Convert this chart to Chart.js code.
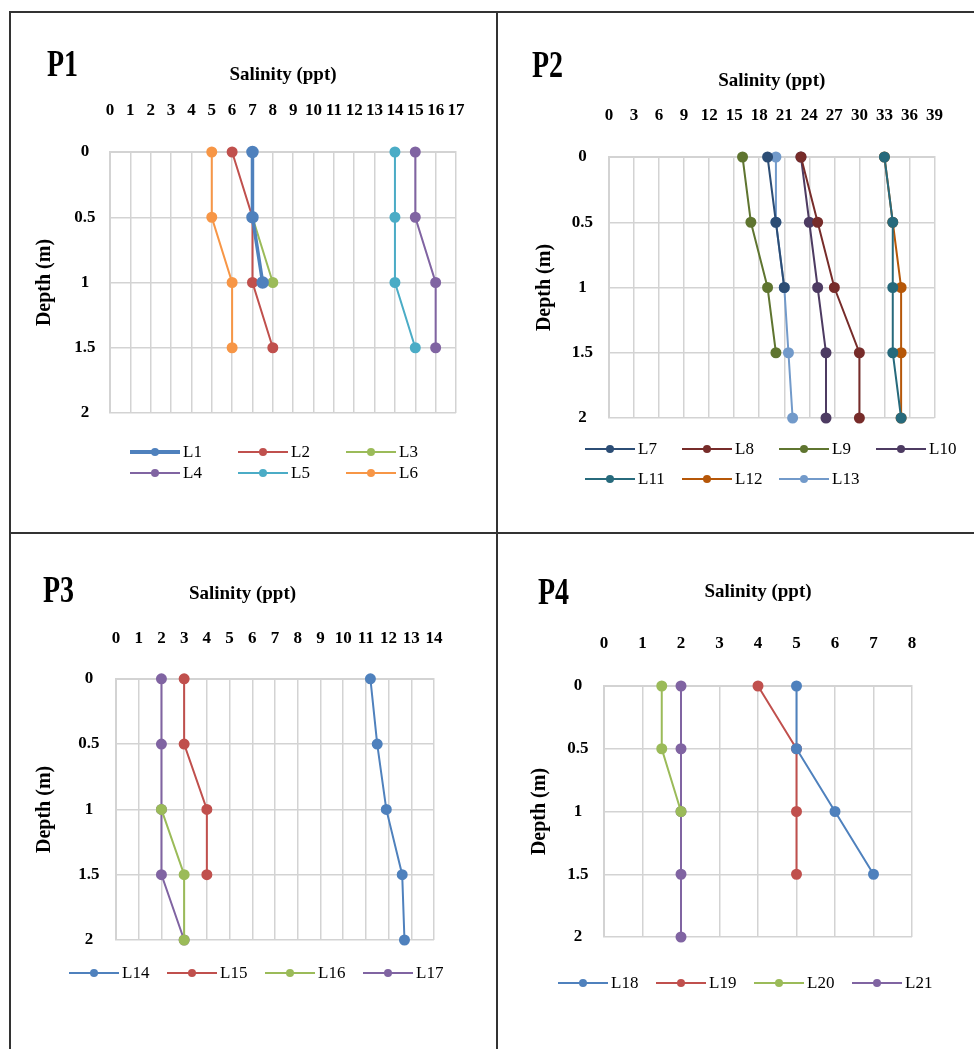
<!DOCTYPE html>
<html>
<head>
<meta charset="utf-8">
<title>Salinity profiles P1-P4</title>
<script src="https://cdn.jsdelivr.net/npm/chart.js@4.4.1/dist/chart.umd.min.js"></script>
<style>
  body { margin: 0; background: #fff; }
  #page { position: relative; width: 974px; height: 1049px; overflow: hidden; background: #fff; }
  canvas { position: absolute; }
  .rule { position: absolute; background: #333; }
  .tag { position: absolute; font: bold 28px "Liberation Serif", serif; line-height: 28px; transform: scaleY(1.35); transform-origin: 0 0; }
</style>
</head>
<body>
<div id="page">
  <canvas id="p1" width="497" height="533" style="left:0;top:0"></canvas>
  <canvas id="p2" width="477" height="533" style="left:497px;top:0"></canvas>
  <canvas id="p3" width="497" height="516" style="left:0;top:533px"></canvas>
  <canvas id="p4" width="477" height="516" style="left:497px;top:533px"></canvas>

  <div class="rule" style="left:9px;top:11px;width:965px;height:2px"></div>
  <div class="rule" style="left:9px;top:11px;width:2px;height:1038px"></div>
  <div class="rule" style="left:496px;top:11px;width:2px;height:1038px"></div>
  <div class="rule" style="left:9px;top:532px;width:965px;height:2px"></div>

  <div class="tag" style="left:47px;top:45px">P1</div>
  <div class="tag" style="left:532px;top:46px">P2</div>
  <div class="tag" style="left:43px;top:571px">P3</div>
  <div class="tag" style="left:538px;top:573px">P4</div>
</div>
<script>
// depth of each sample (m), shared by all stations
const depths = [0, 0.5, 1, 1.5, 2];
const depthTicks = [0, 0.5, 1, 1.5, 2];

// P1 salinity (ppt), null = no sample
const p1Names = ['L1', 'L2', 'L3', 'L4', 'L5', 'L6'];
const L1 = [7, 7, 7.5, null, null];
const L2 = [6, 7, 7, 8, null];
const L3 = [7, 7, 8, null, null];
const L4 = [15, 15, 16, 16, null];
const L5 = [14, 14, 14, 15, null];
const L6 = [5, 5, 6, 6, null];
const p1Ticks = [0, 1, 2, 3, 4, 5, 6, 7, 8, 9, 10, 11, 12, 13, 14, 15, 16, 17];

// P2
const p2Names = ['L7', 'L8', 'L9', 'L10', 'L11', 'L12', 'L13'];
const L7 = [19, 20, 21, null, null];
const L8 = [23, 25, 27, 30, 30];
const L9 = [16, 17, 19, 20, null];
const L10 = [23, 24, 25, 26, 26];
const L11 = [33, 34, 34, 34, 35];
const L12 = [33, 34, 35, 35, 35];
const L13 = [20, 20, 21, 21.5, 22];
const p2Ticks = [0, 3, 6, 9, 12, 15, 18, 21, 24, 27, 30, 33, 36, 39];

// P3
const p3Names = ['L14', 'L15', 'L16', 'L17'];
const L14 = [11.2, 11.5, 11.9, 12.6, 12.7];
const L15 = [3, 3, 4, 4, null];
const L16 = [null, null, 2, 3, 3];
const L17 = [2, 2, 2, 2, 3];
const p3Ticks = [0, 1, 2, 3, 4, 5, 6, 7, 8, 9, 10, 11, 12, 13, 14];

// P4
const p4Names = ['L18', 'L19', 'L20', 'L21'];
const L18 = [5, 5, 6, 7, null];
const L19 = [4, 5, 5, 5, null];
const L20 = [1.5, 1.5, 2, null, null];
const L21 = [2, 2, 2, 2, 2];
const p4Ticks = [0, 1, 2, 3, 4, 5, 6, 7, 8];

const GRID = '#d3d3d3';
const excel = ['#4F81BD', '#C0504D', '#9BBB59', '#8064A2', '#4BACC6', '#F79646'];
const excelDark = ['#2C4D75', '#772C2A', '#5F7530', '#4D3B62', '#276A7C', '#B65708', '#729ACA'];

Chart.defaults.font.family = '"Liberation Serif", "Times New Roman", serif';
Chart.defaults.color = '#000';

// legend drawn in fixed columns like the spreadsheet one
const depthLegend = {
  id: 'depthLegend',
  afterDraw(chart, args, opts) {
    const ctx = chart.ctx;
    ctx.save();
    ctx.font = '17px "Liberation Serif", serif';
    ctx.textBaseline = 'middle';
    chart.data.datasets.forEach((ds, i) => {
      const x = opts.x + (i % opts.cols) * opts.colStep;
      const y = opts.y + Math.floor(i / opts.cols) * opts.rowStep;
      ctx.strokeStyle = ds.borderColor;
      ctx.lineWidth = ds.borderWidth > 2 ? 4 : 2;
      ctx.beginPath();
      ctx.moveTo(x, y);
      ctx.lineTo(x + 50, y);
      ctx.stroke();
      ctx.fillStyle = ds.borderColor;
      ctx.beginPath();
      ctx.arc(x + 25, y, 4, 0, Math.PI * 2);
      ctx.fill();
      ctx.fillStyle = '#000';
      ctx.fillText(ds.label, x + 53, y + 1);
    });
    ctx.restore();
  }
};

function profile(values) {
  return depths.map((d, i) => ({ x: values[i], y: d })).filter(p => p.x !== null);
}

function depthChart(id, o) {
  const datasets = o.series.map((vals, i) => ({
    label: o.names[i],
    data: profile(vals),
    showLine: true,
    borderColor: o.colors[i],
    backgroundColor: o.colors[i],
    pointBackgroundColor: o.colors[i],
    pointBorderColor: o.colors[i],
    borderWidth: (o.widths && o.widths[i]) || 2,
    pointRadius: 4.5,
    clip: false
  }));
  const titleFont = { size: 19, weight: 'bold' };

  const scales = {
    x: {
      type: 'linear',
      position: 'top',
      min: o.xTicks[0],
      max: o.xTicks[o.xTicks.length - 1],
      afterBuildTicks: s => { s.ticks = o.xTicks.map(v => ({ value: v })); },
      afterFit: s => { s.height = o.xHeight; },
      ticks: {
        autoSkip: false,
        maxRotation: 0,
        padding: o.xPad,
        font: { size: 17, weight: 'bold' },
        callback: v => String(v)
      },
      grid: { color: GRID, lineWidth: 1.5, drawTicks: false },
      border: { color: GRID, width: 2 },
      title: {
        display: !o.wideTitle,
        text: 'Salinity (ppt)',
        font: titleFont,
        padding: { top: 4, bottom: 0 }
      }
    },
    y: {
      type: 'linear',
      reverse: true,
      min: 0,
      max: 2,
      afterBuildTicks: s => { s.ticks = depthTicks.map(v => ({ value: v })); },
      afterFit: s => { s.width = o.yWidth; },
      ticks: {
        crossAlign: 'center',
        padding: o.yPad,
        font: { size: 17, weight: 'bold' },
        callback: v => String(v)
      },
      grid: { color: GRID, lineWidth: 1.5, drawTicks: false },
      border: { color: GRID, width: 2 },
      title: {
        display: true,
        text: 'Depth (m)',
        font: { size: 20, weight: 'bold' },
        padding: { top: 4, bottom: 0 }
      }
    }
  };
  if (o.rightGap) {
    // empty strip on the right so the wide title sits off-centre like the original
    scales.gap = {
      type: 'linear',
      position: 'right',
      grid: { display: false },
      border: { display: false },
      ticks: { display: false },
      afterFit: s => { s.width = o.rightGap; }
    };
  }

  return new Chart(document.getElementById(id), {
    type: 'scatter',
    data: { datasets },
    options: {
      responsive: false,
      animation: false,
      layout: { padding: o.pad },
      plugins: {
        legend: { display: false },
        tooltip: { enabled: false },
        title: {
          display: !!o.wideTitle,
          text: 'Salinity (ppt)',
          fullSize: true,
          color: '#000',
          font: titleFont,
          padding: { top: 4, bottom: 0 }
        },
        depthLegend: o.legend
      },
      scales
    },
    plugins: [depthLegend]
  });
}

depthChart('p1', {
  names: p1Names,
  series: [L1, L2, L3, L4, L5, L6],
  colors: excel,
  widths: [3.5, 2, 2, 2, 2, 2],
  xTicks: p1Ticks,
  pad: { left: 29, top: 60, right: 41, bottom: 120 },
  xHeight: 92, yWidth: 81, xPad: 31, yPad: 14.5,
  legend: { x: 130, y: 452, cols: 3, colStep: 108, rowStep: 21 }
});

depthChart('p2', {
  names: p2Names,
  series: [L7, L8, L9, L10, L11, L12, L13],
  colors: excelDark,
  xTicks: p2Ticks,
  pad: { left: 32, top: 66, right: 33, bottom: 115 },
  xHeight: 91, yWidth: 80, xPad: 31, yPad: 16,
  legend: { x: 88, y: 449, cols: 4, colStep: 97, rowStep: 30 }
});

depthChart('p3', {
  names: p3Names,
  series: [L14, L15, L16, L17],
  colors: excel,
  xTicks: p3Ticks,
  wideTitle: true,
  rightGap: 22,
  pad: { left: 29, top: 46, right: 41, bottom: 109 },
  xHeight: 73, yWidth: 87, xPad: 30, yPad: 16.5,
  legend: { x: 69, y: 440, cols: 4, colStep: 98, rowStep: 25 }
});

depthChart('p4', {
  names: p4Names,
  series: [L18, L19, L20, L21],
  colors: excel,
  xTicks: p4Ticks,
  pad: { left: 27, top: 44, right: 62, bottom: 112 },
  xHeight: 109, yWidth: 80, xPad: 32, yPad: 15.5,
  legend: { x: 61, y: 450, cols: 4, colStep: 98, rowStep: 25 }
});
</script>
</body>
</html>
